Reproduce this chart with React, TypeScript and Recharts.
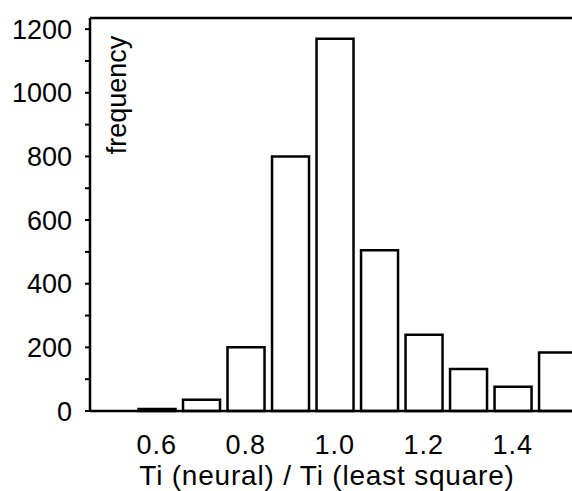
import { Bar, BarChart, ReferenceLine, XAxis, YAxis } from "recharts"

// histogram bin centres and counts
const bins = [0.6, 0.7, 0.8, 0.9, 1.0, 1.1, 1.2, 1.3, 1.4, 1.5]
const counts = [6, 35, 200, 800, 1170, 505, 240, 132, 76, 184]

const xTicks = [0.6, 0.8, 1.0, 1.2, 1.4]
const yTicks = [0, 100, 200, 300, 400, 500, 600, 700, 800, 900, 1000, 1100, 1200]
const yLabelled = [0, 200, 400, 600, 800, 1000, 1200]

const data = bins.map((x, i) => ({ x, n: counts[i] }))

const font = "'Liberation Sans', Arial, Helvetica, sans-serif"

export default function App() {
  return (
    <div style={{ fontFamily: font }}>
      <style>{"body{margin:0}"}</style>
      <BarChart width={572} height={491} data={data} margin={{ top: 18, right: 0, left: 0, bottom: 0 }}>
        <XAxis
          dataKey="x"
          type="number"
          domain={[0.45, 1.533]}
          allowDataOverflow
          ticks={xTicks}
          tickFormatter={(v) => v.toFixed(1)}
          tickLine={false}
          tickSize={0}
          tickMargin={24}
          height={80}
          axisLine={{ stroke: "#000", strokeWidth: 2.5 }}
          tick={{ fill: "#000", fontSize: 27, fontFamily: font, letterSpacing: 1 }}
          label={{
            value: "Ti (neural) / Ti (least square)",
            position: "insideBottom",
            offset: 6,
            dx: -4,
            fill: "#000",
            fontSize: 28,
            fontFamily: font,
            letterSpacing: 0.8,
          }}
        />
        <YAxis
          type="number"
          domain={[0, 1235]}
          ticks={yTicks}
          interval={0}
          width={90}
          tickSize={5}
          tickMargin={13}
          tickFormatter={(v) => (yLabelled.includes(v) ? String(v) : "")}
          axisLine={{ stroke: "#000", strokeWidth: 2.5 }}
          tickLine={{ stroke: "#000", strokeWidth: 2 }}
          tick={{ fill: "#000", fontSize: 27, fontFamily: font }}
          label={(props: any) => {
            const vb = props.viewBox
            const x = vb.x + vb.width + 36
            const y = vb.y + 77
            return (
              <text
                x={x}
                y={y}
                transform={`rotate(-90, ${x}, ${y})`}
                textAnchor="middle"
                fill="#000"
                fontSize={27}
                fontFamily={font}
              >
                frequency
              </text>
            )
          }}
        />
        <ReferenceLine y={1235} stroke="#000" strokeWidth={2.5} />
        <Bar dataKey="n" fill="#fff" stroke="#000" strokeWidth={2.5} barSize={37} isAnimationActive={false} />
      </BarChart>
    </div>
  )
}
